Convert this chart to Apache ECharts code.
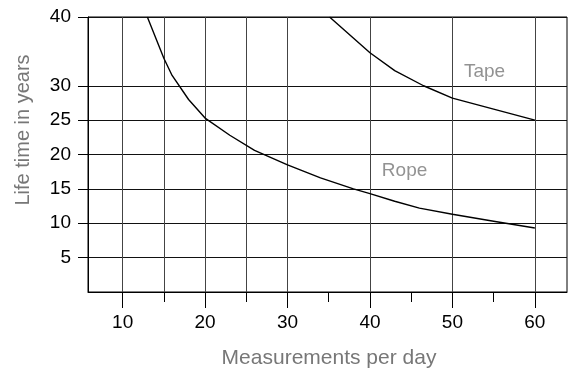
<!DOCTYPE html>
<html>
<head>
<meta charset="utf-8">
<script src="https://cdn.jsdelivr.net/npm/echarts@6/dist/echarts.min.js"></script>
<style>
  html, body { margin: 0; padding: 0; background: #fff; }
  #chart { width: 570px; height: 370px; }
</style>
</head>
<body>
<div id="chart"></div>
<script>
// values
const ropeX = [13, 15, 16, 18, 20, 23, 26, 30, 34, 38, 40, 43, 46, 50, 55, 60];
const ropeY = [40, 34, 31.5, 28, 25.3, 22.8, 20.6, 18.5, 16.6, 15, 14.3, 13.2, 12.2, 11.3, 10.3, 9.3];
const tapeX = [35.1, 40, 43, 46.5, 50, 55, 60];
const tapeY = [40, 34.8, 32.2, 30, 28.2, 26.6, 25];

const curveNames = ["Rope", "Tape"];
const curveLabelX = [44.2, 53.9];
const curveLabelY = [17.6, 32.1];

const xMajorTicks = [10, 20, 30, 40, 50, 60];
const xMinorTicks = [15, 25, 35, 45, 55];
const xGridLines = [10, 15, 20, 25, 30, 40, 50, 60];
const yTicks = [5, 10, 15, 20, 25, 30, 40];

const font = "Liberation Sans, Arial, sans-serif";
const pairs = (xs, ys) => xs.map((x, i) => [x, ys[i]]);

const chart = echarts.init(document.getElementById("chart"));
chart.setOption({
  animation: false,
  grid: {
    left: 88, right: 3, top: 17, bottom: 78,
    show: true, borderColor: "#000", borderWidth: 1
  },
  xAxis: [
    {
      type: "value", position: "bottom", min: 5.8, max: 63.9,
      axisLine: { lineStyle: { color: "#000", width: 1 } },
      axisTick: { customValues: xMajorTicks, length: 16, lineStyle: { color: "#000" } },
      axisLabel: { customValues: xMajorTicks, margin: 21, color: "#000", fontSize: 19, fontFamily: font },
      splitLine: { show: false }
    },
    {
      type: "value", position: "bottom", min: 5.8, max: 63.9,
      axisLine: { show: false },
      axisTick: { customValues: xMinorTicks, length: 10, lineStyle: { color: "#000" } },
      axisLabel: { show: false },
      splitLine: { show: false }
    },
    {
      type: "value", position: "bottom", min: 5.8, max: 63.9,
      axisLine: { show: false },
      axisTick: { show: false, customValues: xGridLines },
      axisLabel: { show: false },
      splitLine: { show: true, lineStyle: { color: "#444", width: 1 } }
    }
  ],
  yAxis: {
    type: "value", min: 0, max: 40,
    axisLine: { show: true, lineStyle: { color: "#000", width: 1 } },
    axisTick: { show: true, customValues: yTicks, length: 10, lineStyle: { color: "#000" } },
    axisLabel: { customValues: yTicks, margin: 17, color: "#000", fontSize: 19, fontFamily: font },
    splitLine: { show: true, lineStyle: { color: "#111", width: 1 } }
  },
  graphic: [
    {
      type: "text", x: 23, y: 130, rotation: Math.PI / 2,
      style: {
        text: "Life time in years", fill: "#777", fontSize: 20, fontFamily: font,
        align: "center", verticalAlign: "middle"
      }
    },
    {
      type: "text", x: 329, y: 358,
      style: {
        text: "Measurements per day", fill: "#777", fontSize: 21, fontFamily: font,
        align: "center", verticalAlign: "middle"
      }
    }
  ],
  series: [
    {
      name: "Rope", type: "line", showSymbol: false, symbol: "none",
      lineStyle: { color: "#000", width: 1.4 },
      data: pairs(ropeX, ropeY)
    },
    {
      name: "Tape", type: "line", showSymbol: false, symbol: "none",
      lineStyle: { color: "#000", width: 1.4 },
      data: pairs(tapeX, tapeY)
    },
    {
      type: "scatter", symbolSize: 0,
      label: {
        show: true, position: "inside", color: "#777", fontSize: 19, fontFamily: font,
        formatter: p => curveNames[p.dataIndex]
      },
      data: pairs(curveLabelX, curveLabelY)
    }
  ]
});
</script>
</body>
</html>
